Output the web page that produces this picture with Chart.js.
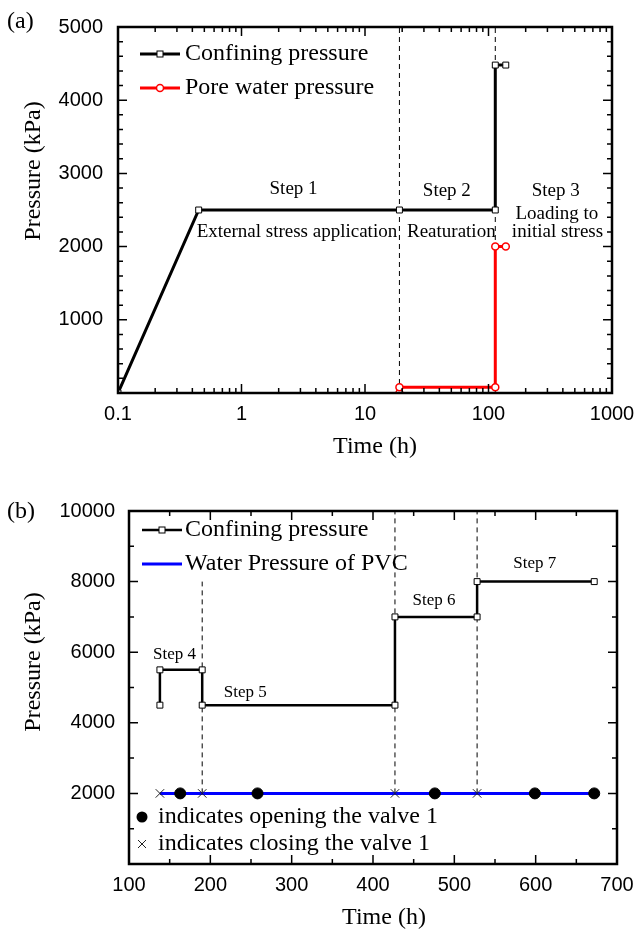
<!DOCTYPE html>
<html>
<head>
<meta charset="utf-8">
<script src="https://cdn.jsdelivr.net/npm/chart.js@4.4.0/dist/chart.umd.min.js"></script>
<style>
  html, body { margin: 0; padding: 0; background: #fff; }
  canvas { display: block; }
</style>
</head>
<body>
<canvas id="chartA" width="638" height="465"></canvas>
<canvas id="chartB" width="638" height="466"></canvas>
<script>
// ---------- panel (a): time on a log axis (h), pressure (kPa)
const timeConfA = [0.1, 0.45, 19, 113.5, 113.5, 138];
const pressConfA = [0, 2500, 2500, 2500, 4480, 4480];
const timePoreA = [19, 19, 113.5, 113.5, 138];
const pressPoreA = [0, 80, 80, 2000, 2000];
const stepLinesA = [19, 113.5];
const xTicksA = [0.1, 1, 10, 100, 1000];
const yTicksA = [1000, 2000, 3000, 4000, 5000];

// ---------- panel (b)
const timeConfB = [138, 138, 190, 190, 427, 427, 528, 528, 672];
const pressConfB = [4500, 5500, 5500, 4500, 4500, 7000, 7000, 8000, 8000];
const timeWaterB = [138, 672];
const pressWaterB = [2000, 2000];
const valveOpenB = [163, 258, 476, 599, 672];
const valveCloseB = [138, 190, 427, 528];
const stepLinesB = [190, 427, 528];
const stepTopsB = [8000, 10000, 10000];
const xTicksB = [100, 200, 300, 400, 500, 600, 700];
const yTicksB = [2000, 4000, 6000, 8000, 10000];

const serif = '"Liberation Serif", "Times New Roman", serif';
const sans = '"Liberation Sans", Arial, sans-serif';

const toPts = (xs, ys) => xs.map((x, i) => ({ x: x, y: ys[i] }));

function vLines(xs, lo, his) {
  return xs.map((x, i) => ({
    data: [{ x: x, y: lo }, { x: x, y: his[i] }],
    showLine: true, borderColor: '#000', borderWidth: 1, borderDash: [5, 4],
    pointRadius: 0
  }));
}

function drawMarker(ctx, type, x, y, color) {
  ctx.save();
  ctx.lineWidth = 1;
  ctx.strokeStyle = color;
  if (type === 'rect') {
    ctx.fillStyle = '#fff';
    ctx.fillRect(x - 3, y - 3, 6, 6);
    ctx.strokeRect(x - 3, y - 3, 6, 6);
  } else if (type === 'circle') {
    ctx.fillStyle = '#fff';
    ctx.lineWidth = 1.5;
    ctx.beginPath(); ctx.arc(x, y, 3.5, 0, Math.PI * 2); ctx.fill(); ctx.stroke();
  } else if (type === 'dot') {
    ctx.fillStyle = color;
    ctx.beginPath(); ctx.arc(x, y, 5.5, 0, Math.PI * 2); ctx.fill();
  } else if (type === 'cross') {
    ctx.beginPath();
    ctx.moveTo(x - 4, y - 4); ctx.lineTo(x + 4, y + 4);
    ctx.moveTo(x + 4, y - 4); ctx.lineTo(x - 4, y + 4);
    ctx.stroke();
  }
  ctx.restore();
}

function makeOverlay(cfg) {
  return {
    id: 'overlay',
    afterDraw(chart) {
      const { ctx, chartArea: a } = chart;
      const sx = chart.scales.x, sy = chart.scales.y;
      ctx.save();
      // inward ticks on all four sides
      ctx.strokeStyle = '#000';
      ctx.lineWidth = 1.5;
      ctx.beginPath();
      const tickX = (v, len) => {
        const p = sx.getPixelForValue(v);
        ctx.moveTo(p, a.bottom); ctx.lineTo(p, a.bottom - len);
        ctx.moveTo(p, a.top); ctx.lineTo(p, a.top + len);
      };
      const tickY = (v, len) => {
        const p = sy.getPixelForValue(v);
        ctx.moveTo(a.left, p); ctx.lineTo(a.left + len, p);
        ctx.moveTo(a.right, p); ctx.lineTo(a.right - len, p);
      };
      cfg.majorX.forEach(v => tickX(v, 9));
      cfg.minorX.forEach(v => tickX(v, 5));
      cfg.majorY.forEach(v => tickY(v, 9));
      cfg.minorY.forEach(v => tickY(v, 5));
      ctx.stroke();
      ctx.lineWidth = 2.5;
      ctx.strokeRect(a.left, a.top, a.right - a.left, a.bottom - a.top);

      // step notes
      ctx.fillStyle = '#000';
      ctx.textAlign = 'center';
      ctx.textBaseline = 'middle';
      ctx.font = cfg.noteFont;
      cfg.notes.forEach(n => ctx.fillText(n.text, sx.getPixelForValue(n.x), sy.getPixelForValue(n.y)));

      // legends
      cfg.legends.forEach(lg => {
        lg.items.forEach((it, i) => {
          const y = (lg.fromBottom ? a.bottom - lg.top : a.top + lg.top) + i * lg.gap;
          const x0 = a.left + lg.left;
          if (it.line) {
            ctx.strokeStyle = it.color;
            ctx.lineWidth = it.line;
            ctx.beginPath(); ctx.moveTo(x0, y); ctx.lineTo(x0 + 40, y); ctx.stroke();
          }
          if (it.marker) drawMarker(ctx, it.marker, x0 + lg.markerOff, y, it.markerColor || it.color);
          ctx.fillStyle = '#000';
          ctx.textAlign = 'left';
          ctx.font = '24px ' + serif;
          ctx.fillText(it.label, x0 + lg.textOff, y);
        });
      });

      // axis titles and panel letter
      ctx.fillStyle = '#000';
      ctx.font = '24px ' + serif;
      ctx.textAlign = 'center';
      ctx.fillText('Time (h)', cfg.xTitle[0], cfg.xTitle[1]);
      ctx.save();
      ctx.translate(cfg.yTitle[0], cfg.yTitle[1]);
      ctx.rotate(-Math.PI / 2);
      ctx.fillText('Pressure (kPa)', 0, 0);
      ctx.restore();
      ctx.textAlign = 'left';
      ctx.fillText(cfg.panel, 7, cfg.panelY);
      ctx.restore();
    }
  };
}

const tickFont = { family: sans, size: 20 };

// keep the plot box where the layout padding puts it, labels may overhang
function fixX(h) {
  return s => { s.height = h; s.paddingLeft = 0; s.paddingRight = 0; };
}

// ---------- chart (a)
const minorXA = [];
[0.1, 1, 10, 100].forEach(d => { for (let k = 2; k <= 9; k++) minorXA.push(d * k); });
const minorYA = [];
for (let v = 200; v < 5000; v += 200) if (v % 1000) minorYA.push(v);

new Chart(document.getElementById('chartA'), {
  type: 'scatter',
  data: {
    datasets: [
      { data: toPts(timePoreA, pressPoreA), showLine: true, borderColor: '#ff0000', borderWidth: 3,
        pointStyle: 'circle', pointRadius: 3.5, pointBorderWidth: 1.5,
        pointBackgroundColor: '#fff', pointBorderColor: '#ff0000' },
      { data: toPts(timeConfA, pressConfA), showLine: true, borderColor: '#000', borderWidth: 3,
        pointStyle: 'rect', pointRadius: 4.2, pointBorderWidth: 1,
        pointBackgroundColor: '#fff', pointBorderColor: '#000' },
      ...vLines(stepLinesA, 0, stepLinesA.map(() => 5000))
    ]
  },
  options: {
    responsive: false,
    animation: false,
    layout: { padding: { top: 25, right: 26, bottom: 0, left: 0 } },
    plugins: { legend: { display: false }, tooltip: { enabled: false } },
    scales: {
      x: {
        type: 'logarithmic', min: 0.1, max: 1000,
        afterBuildTicks: s => { s.ticks = xTicksA.map(v => ({ value: v })); },
        afterFit: fixX(72),
        grid: { display: false, drawTicks: false }, border: { display: false },
        ticks: { font: tickFont, color: '#000', padding: 9, autoSkip: false, maxRotation: 0,
                 callback: v => String(v) }
      },
      y: {
        min: 0, max: 5000,
        afterBuildTicks: s => { s.ticks = yTicksA.map(v => ({ value: v })); },
        afterFit: s => { s.width = 118; },
        grid: { display: false, drawTicks: false }, border: { display: false },
        ticks: { font: tickFont, color: '#000', padding: 15, callback: v => String(v) }
      }
    }
  },
  plugins: [makeOverlay({
    majorX: xTicksA, minorX: minorXA, majorY: [0].concat(yTicksA), minorY: minorYA,
    noteFont: '19px ' + serif,
    notes: [
      { text: 'Step 1', x: 2.64, y: 2785 },
      { text: 'External stress application', x: 2.81, y: 2200 },
      { text: 'Step 2', x: 46, y: 2760 },
      { text: 'Reaturation', x: 50, y: 2200 },
      { text: 'Step 3', x: 350, y: 2760 },
      { text: 'Loading to', x: 358, y: 2445 },
      { text: 'initial stress', x: 362, y: 2200 }
    ],
    legends: [{
      top: 27, left: 22, gap: 34, markerOff: 20, textOff: 45,
      items: [
        { label: 'Confining pressure', color: '#000', line: 3, marker: 'rect' },
        { label: 'Pore water pressure', color: '#ff0000', line: 3, marker: 'circle' }
      ]
    }],
    xTitle: [375, 447], yTitle: [34, 171], panel: '(a)', panelY: 22
  })]
});

// ---------- chart (b)
const minorXB = [150, 250, 350, 450, 550, 650];
const minorYB = [1000, 3000, 5000, 7000, 9000];

new Chart(document.getElementById('chartB'), {
  type: 'scatter',
  data: {
    datasets: [
      { data: toPts(valveOpenB, valveOpenB.map(() => 2000)), showLine: false,
        pointStyle: 'circle', pointRadius: 5.5, pointBackgroundColor: '#000', pointBorderColor: '#000' },
      { data: toPts(valveCloseB, valveCloseB.map(() => 2000)), showLine: false,
        pointStyle: 'crossRot', pointRadius: 6, pointBorderColor: '#222', pointBorderWidth: 1 },
      { data: toPts(timeConfB, pressConfB), showLine: true, borderColor: '#000', borderWidth: 2.5,
        pointStyle: 'rect', pointRadius: 4.2, pointBorderWidth: 1,
        pointBackgroundColor: '#fff', pointBorderColor: '#000' },
      { data: toPts(timeWaterB, pressWaterB), showLine: true, borderColor: '#0000ff', borderWidth: 3,
        pointRadius: 0 },
      ...vLines(stepLinesB, 2000, stepTopsB)
    ]
  },
  options: {
    responsive: false,
    animation: false,
    layout: { padding: { top: 46, right: 21, bottom: 0, left: 0 } },
    plugins: { legend: { display: false }, tooltip: { enabled: false } },
    scales: {
      x: {
        min: 100, max: 700,
        afterBuildTicks: s => { s.ticks = xTicksB.map(v => ({ value: v })); },
        afterFit: fixX(67),
        grid: { display: false, drawTicks: false }, border: { display: false },
        ticks: { font: tickFont, color: '#000', padding: 9, autoSkip: false, maxRotation: 0,
                 callback: v => String(v) }
      },
      y: {
        min: 0, max: 10000,
        afterBuildTicks: s => { s.ticks = yTicksB.map(v => ({ value: v })); },
        afterFit: s => { s.width = 129; },
        grid: { display: false, drawTicks: false }, border: { display: false },
        ticks: { font: tickFont, color: '#000', padding: 14, callback: v => String(v) }
      }
    }
  },
  plugins: [makeOverlay({
    majorX: xTicksB, minorX: minorXB, majorY: [0].concat(yTicksB), minorY: minorYB,
    noteFont: '17px ' + serif,
    notes: [
      { text: 'Step 4', x: 156, y: 5920 },
      { text: 'Step 5', x: 243, y: 4870 },
      { text: 'Step 6', x: 475, y: 7450 },
      { text: 'Step 7', x: 599, y: 8500 }
    ],
    legends: [
      { top: 19, left: 13, gap: 34, markerOff: 20, textOff: 43,
        items: [
          { label: 'Confining pressure', color: '#000', line: 2.5, marker: 'rect' },
          { label: 'Water Pressure of PVC', color: '#0000ff', line: 3 }
        ] },
      { fromBottom: true, top: 47, left: 13, gap: 27, markerOff: 0, textOff: 16,
        items: [
          { label: 'indicates opening the valve 1', color: '#000', marker: 'dot' },
          { label: 'indicates closing the valve 1', color: '#222', marker: 'cross' }
        ] }
    ],
    xTitle: [384, 453], yTitle: [34, 197], panel: '(b)', panelY: 47
  })]
});
</script>
</body>
</html>
